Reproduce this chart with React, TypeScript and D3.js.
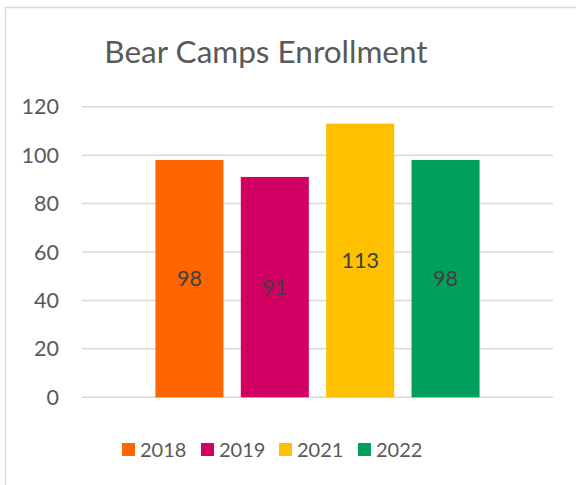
import * as d3 from "d3";
import React, { useEffect, useRef } from "react";

const years = ["2018", "2019", "2021", "2022"];
const enrollment = [98, 91, 113, 98];
const colors = ["#FF6600", "#D10062", "#FFC000", "#00A05C"];
const yTicks = [0, 20, 40, 60, 80, 100, 120];

const W = 576;
const H = 485;
const FONT = "Lato, 'Liberation Sans', sans-serif";

const App = () => {
  const ref = useRef<SVGSVGElement>(null);

  useEffect(() => {
    const svg = d3.select(ref.current).attr("width", W).attr("height", H);
    svg.selectAll("*").remove();

    // chart frame (only top and left edges visible)
    svg
      .append("path")
      .attr("d", `M5.5,${H} L5.5,7.5 L${W},7.5`)
      .attr("fill", "none")
      .attr("stroke", "#d9d9d9")
      .attr("stroke-width", 1.5);

    svg
      .append("text")
      .attr("x", 266)
      .attr("y", 63)
      .attr("text-anchor", "middle")
      .attr("font-family", FONT)
      .attr("font-size", 31.5)
      .attr("fill", "#595959")
      .text("Bear Camps Enrollment");

    const x = d3
      .scaleBand()
      .domain(years)
      .range([82, 553])
      .paddingInner(0.203)
      .paddingOuter(0.86);

    const y = d3.scaleLinear().domain([0, 120]).range([397.3, 106.7]);

    const grid = svg.append("g");
    grid
      .selectAll("line")
      .data(yTicks)
      .join("line")
      .attr("x1", 82)
      .attr("x2", 553)
      .attr("y1", (d) => y(d))
      .attr("y2", (d) => y(d))
      .attr("stroke", "#d9d9d9")
      .attr("stroke-width", 1.5);

    grid
      .selectAll("text")
      .data(yTicks)
      .join("text")
      .attr("x", 59)
      .attr("y", (d) => y(d))
      .attr("dy", "0.35em")
      .attr("text-anchor", "end")
      .attr("font-family", FONT)
      .attr("font-size", 21.5)
      .attr("fill", "#595959")
      .text((d) => d);

    const bars = svg.append("g");
    bars
      .selectAll("rect")
      .data(enrollment)
      .join("rect")
      .attr("x", (_, i) => x(years[i]))
      .attr("y", (d) => y(d))
      .attr("width", x.bandwidth())
      .attr("height", (d) => y(0) - y(d))
      .attr("fill", (_, i) => colors[i]);

    bars
      .selectAll("text")
      .data(enrollment)
      .join("text")
      .attr("x", (_, i) => x(years[i]) + x.bandwidth() / 2)
      .attr("y", (d) => (y(d) + y(0)) / 2)
      .attr("dy", "0.35em")
      .attr("text-anchor", "middle")
      .attr("font-family", FONT)
      .attr("font-size", 21.5)
      .attr("fill", "#404040")
      .text((d) => d);

    // legend
    const legendX = [122, 201, 279, 358];
    const legend = svg
      .append("g")
      .selectAll("g")
      .data(years)
      .join("g")
      .attr("transform", (_, i) => `translate(${legendX[i]}, 443)`);
    legend
      .append("rect")
      .attr("width", 13)
      .attr("height", 13)
      .attr("fill", (_, i) => colors[i]);
    legend
      .append("text")
      .attr("x", 18)
      .attr("y", 6.5)
      .attr("dy", "0.36em")
      .attr("font-family", FONT)
      .attr("font-size", 20)
      .attr("fill", "#595959")
      .text((d) => d);
  }, []);

  return (
    <svg
      ref={ref}
      style={{ position: "absolute", left: 0, top: 0, display: "block" }}
    />
  );
};

export default App;
